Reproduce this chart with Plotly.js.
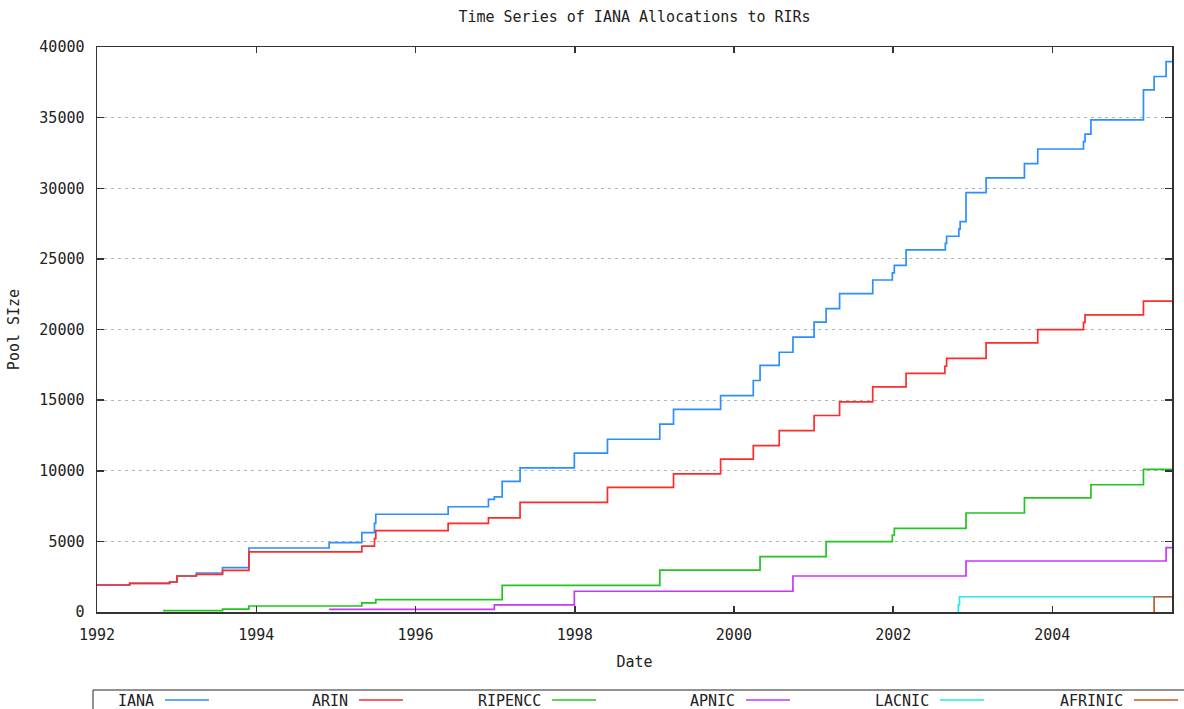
<!DOCTYPE html>
<html>
<head>
<meta charset="utf-8">
<script src="https://cdn.plot.ly/plotly-3.0.1.min.js"></script>
<style>html,body{margin:0;padding:0;background:#fff;}#chart{width:1184px;height:709px;}</style>
</head>
<body>
<div id="chart"></div>
<script>
// ---- data ----
const seriesNames = ["IANA", "ARIN", "RIPENCC", "APNIC", "LACNIC", "AFRINIC"];
const endDate = "2005-07-03";

const ianaDates = ["1992-01-01","1992-05-30","1992-11-29","1993-01-02","1993-04-01","1993-07-30","1993-11-28","1994-12-01","1995-04-30","1995-06-27","1995-07-03","1996-05-30","1996-12-01","1996-12-28","1997-02-02","1997-04-25","1997-12-30","1998-05-31","1999-01-26","1999-03-30","1999-11-01","2000-03-30","2000-04-30","2000-07-27","2000-09-28","2001-01-03","2001-02-27","2001-04-30","2001-09-29","2001-12-28","2002-01-06","2002-03-01","2002-08-28","2002-09-03","2002-10-29","2002-11-04","2002-12-01","2003-03-03","2003-08-26","2003-10-26","2004-05-23","2004-05-30","2004-06-26","2005-02-22","2005-04-12","2005-06-06"];
const ianaValues = [1910,2030,2125,2550,2760,3140,4530,4910,5620,6280,6920,7450,7970,8150,9250,10200,11250,12230,13300,14340,15320,16390,17455,18390,19455,20520,21480,22545,23505,24010,24545,25640,26100,26600,27100,27640,29690,30730,31740,32780,33300,33830,34840,36970,37910,38970];

const arinDates = ["1992-01-01","1992-05-30","1992-11-29","1993-01-02","1993-04-01","1993-07-30","1993-11-28","1995-04-30","1995-06-27","1995-07-03","1996-05-30","1996-12-01","1997-04-25","1998-05-31","1999-03-30","1999-11-01","2000-03-30","2000-07-27","2001-01-03","2001-04-30","2001-09-29","2002-03-01","2002-08-26","2002-09-03","2003-03-03","2003-10-26","2004-05-23","2004-05-30","2005-02-22"];
const arinValues = [1910,2030,2125,2550,2670,2950,4250,4670,5190,5760,6280,6660,7755,8820,9780,10820,11780,12845,13910,14870,15940,16900,17400,17960,19050,19990,20500,21030,22010];

const ripeDates = ["1992-10-30","1993-07-30","1993-11-28","1995-04-30","1995-07-03","1997-02-02","1999-01-26","2000-04-30","2001-02-27","2001-12-28","2002-01-06","2002-12-01","2003-08-26","2004-06-26","2005-02-22"];
const ripeValues = [100,210,425,640,870,1890,2960,3920,4985,5450,5915,7010,8075,9010,10100];

const apnicDates = ["1994-12-01","1996-12-28","1997-12-30","2000-09-28","2002-12-01","2005-06-06"];
const apnicValues = [190,500,1470,2550,3610,4560];

const lacnicDates = ["2002-10-22","2002-10-27","2002-11-01"];
const lacnicValues = [0,500,1080];

const afrinicDates = ["2005-04-08","2005-04-12"];
const afrinicValues = [0,1080];

const xTickYears = ["1992","1994","1996","1998","2000","2002","2004"];

// ---- styles ----
const colors = ["#2b8fff", "#ff2a2a", "#22c422", "#c636ff", "#22eaea", "#c8582a"];
const FONT = "DejaVu Sans Mono, Liberation Mono, monospace";

const allDates = [ianaDates, arinDates, ripeDates, apnicDates, lacnicDates, afrinicDates];
const allValues = [ianaValues, arinValues, ripeValues, apnicValues, lacnicValues, afrinicValues];

const traces = seriesNames.map((name, i) => {
  const x = allDates[i].concat([endDate]);
  const y = allValues[i].concat([allValues[i][allValues[i].length - 1]]);
  return {
    type: "scatter", mode: "lines", name: name, x: x, y: y,
    line: {shape: "hv", color: colors[i], width: 1.7},
    showlegend: false, hoverinfo: "skip"
  };
});

// plot-area geometry in pixels (for the legend row below the plot)
const L = 97, R = 12, T = 47, B = 97, W = 1184, H = 709;
const pw = W - L - R, ph = H - T - B;
const px2x = p => (p - L) / pw;
const py2y = p => (H - B - p) / ph;

const shapes = [{
  type: "rect", xref: "paper", yref: "paper",
  x0: px2x(93), x1: px2x(1215), y0: py2y(730), y1: py2y(690),
  line: {color: "#222", width: 1}, fillcolor: "rgba(0,0,0,0)"
}];
const annotations = [];
const legendTextEnd = [156, 350, 543, 737, 931, 1125];
seriesNames.forEach((name, i) => {
  const te = legendTextEnd[i];
  annotations.push({
    xref: "paper", yref: "paper", x: px2x(te), y: py2y(701),
    xanchor: "right", yanchor: "middle", text: name, showarrow: false,
    font: {family: FONT, size: 15, color: "#222"}
  });
  shapes.push({
    type: "line", xref: "paper", yref: "paper",
    x0: px2x(te + 9), x1: px2x(te + 53), y0: py2y(700), y1: py2y(700),
    line: {color: colors[i], width: 1.7}
  });
});

const layout = {
  width: W, height: H,
  margin: {l: L, r: R, t: T, b: B},
  paper_bgcolor: "#fff", plot_bgcolor: "#fff",
  font: {family: FONT, size: 15, color: "#222"},
  title: {text: "Time Series of IANA Allocations to RIRs", x: 0.5, xref: "paper",
          y: 1 - 17 / H, yref: "container", yanchor: "middle",
          font: {family: FONT, size: 15, color: "#222"}},
  xaxis: {
    type: "date", range: ["1992-01-01", endDate],
    tickvals: xTickYears.map(y => y + "-01-01"), ticktext: xTickYears,
    ticks: "inside", ticklen: 6, tickwidth: 1.5, tickcolor: "#333",
    showline: true, mirror: "ticks", linecolor: "#333", linewidth: 1.5,
    showgrid: false, zeroline: false, ticklabelstandoff: 8,
    tickfont: {family: FONT, size: 15, color: "#222"},
    title: {text: "Date", standoff: 14, font: {family: FONT, size: 15, color: "#222"}}
  },
  yaxis: {
    range: [0, 40000], tick0: 0, dtick: 5000, tickformat: "d",
    ticks: "inside", ticklen: 7, tickwidth: 1.5, tickcolor: "#333",
    showline: true, mirror: "ticks", linecolor: "#333", linewidth: 1.5,
    showgrid: true, gridcolor: "#b4b4b4", gridwidth: 1, griddash: "3px,4px",
    zeroline: false, ticklabelstandoff: 8,
    tickfont: {family: FONT, size: 15, color: "#222"},
    title: {text: "Pool SIze", standoff: 16, font: {family: FONT, size: 15, color: "#222"}}
  },
  shapes: shapes,
  annotations: annotations,
  showlegend: false
};

Plotly.newPlot("chart", traces, layout, {staticPlot: true, displayModeBar: false});
</script>
</body>
</html>
